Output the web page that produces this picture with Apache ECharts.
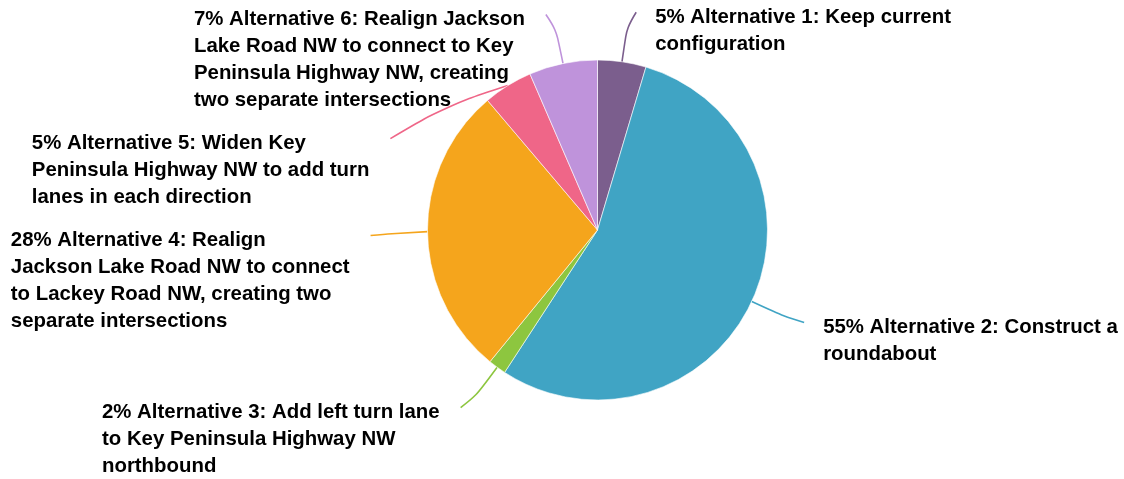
<!DOCTYPE html>
<html>
<head>
<meta charset="utf-8">
<script src="https://cdn.jsdelivr.net/npm/echarts@6/dist/echarts.min.js"></script>
<style>
html,body{margin:0;padding:0;background:#ffffff;}
#chart{width:1124px;height:479px;}
</style>
</head>
<body>
<div id="chart"></div>
<script>
// ---- data ----
const categories = [
  'Alternative 1: Keep current configuration',
  'Alternative 2: Construct a roundabout',
  'Alternative 3: Add left turn lane to Key Peninsula Highway NW northbound',
  'Alternative 4: Realign Jackson Lake Road NW to connect to Lackey Road NW, creating two separate intersections',
  'Alternative 5: Widen Key Peninsula Highway NW to add turn lanes in each direction',
  'Alternative 6: Realign Jackson Lake Road NW to connect to Key Peninsula Highway NW, creating two separate intersections'
];
// label text as wrapped in the chart (percent prefix is added from the values)
const wrappedLabels = [
  'Alternative 1: Keep current\nconfiguration',
  'Alternative 2: Construct a\nroundabout',
  'Alternative 3: Add left turn lane\nto Key Peninsula Highway NW\nnorthbound',
  'Alternative 4: Realign\nJackson Lake Road NW to connect\nto Lackey Road NW, creating two\nseparate intersections',
  'Alternative 5: Widen Key\nPeninsula Highway NW to add turn\nlanes in each direction',
  'Alternative 6: Realign Jackson\nLake Road NW to connect to Key\nPeninsula Highway NW, creating\ntwo separate intersections'
];
const values = [4.6, 54.6, 1.7, 27.9, 4.7, 6.5];
const colors = ['#7b5e8d', '#40a4c4', '#8dc63f', '#f5a51c', '#ef6688', '#bf93db'];

// ---- layout constants ----
const CX = 597.5, CY = 230, R0 = 170;
const LEN = 50;      // radial distance of label line end beyond the pie edge
const HOFF = 7;      // small horizontal hook at line end
const GAP_R = 19;    // gap between line end and text (right side)
const GAP_L = 21;    // gap between line end and text (left side)
const TOPOFF = 8.5;  // line end y to label box top
const VGAP = 16;     // min vertical gap between labels on one side

const chart = echarts.init(document.getElementById('chart'), null, {renderer: 'canvas'});

const store = [];
function collect(p) {
  store[p.dataIndex] = {
    pts: p.labelLinePoints,
    w: p.labelRect.width,
    h: p.labelRect.height
  };
  return {};
}

const option = {
  animation: false,
  backgroundColor: '#ffffff',
  series: [{
    type: 'pie',
    center: [CX, CY],
    radius: R0,
    startAngle: 90,
    clockwise: true,
    data: categories.map((name, i) => ({
      name: name,
      value: values[i],
      itemStyle: {color: colors[i]},
      labelLine: {lineStyle: {color: colors[i]}}
    })),
    itemStyle: {borderColor: '#ffffff', borderWidth: 0.6},
    label: {
      show: true,
      position: 'outside',
      alignTo: 'none',
      overflow: 'none',
      bleedMargin: 0,
      formatter: function (p) {
        return Math.round(p.value) + '% ' + wrappedLabels[p.dataIndex];
      },
      color: '#000000',
      fontFamily: '"Liberation Sans", Arial, Helvetica, sans-serif',
      fontWeight: 'bold',
      fontSize: 20.4,
      lineHeight: 27,
      align: 'left'
    },
    labelLine: {
      show: true,
      length: LEN,
      length2: 0,
      smooth: 0.35,
      lineStyle: {width: 1.6}
    },
    emphasis: {disabled: true},
    labelLayout: collect
  }]
};

chart.setOption(option);

function computeLayout() {
  const R = R0 + LEN;
  const items = store.map((s, i) => {
    const p0 = s.pts[0];
    const dx = (p0[0] - CX) / R0, dy = (p0[1] - CY) / R0;
    return {i: i, p0: p0, dx: dx, dy: dy, side: dx >= 0 ? 1 : -1,
            endY: CY + dy * R, w: s.w, h: s.h, shifted: false};
  });
  [1, -1].forEach(side => {
    const list = items.filter(it => it.side === side).sort((a, b) => a.endY - b.endY);
    for (let k = 1; k < list.length; k++) {
      const prev = list[k - 1], cur = list[k];
      const prevBottom = prev.endY - TOPOFF + prev.h;
      if (cur.endY - TOPOFF < prevBottom + VGAP) {
        cur.endY = prevBottom + VGAP + TOPOFF;
        cur.shifted = true;
      }
    }
  });
  const out = [];
  items.forEach(it => {
    const ddy = it.endY - CY;
    const ddx = Math.sqrt(Math.max(0, R * R - ddy * ddy));
    const endX = CX + it.side * ddx + it.side * HOFF;
    const end = [endX, it.endY];
    let mid;
    if (it.shifted) {
      mid = [it.p0[0] + it.dx * 14, it.p0[1] + it.dy * 14];
      mid = [(mid[0] + end[0]) / 2, (mid[1] + end[1]) / 2];
    } else {
      mid = [CX + it.dx * (R0 + LEN * 0.7), CY + it.dy * (R0 + LEN * 0.7)];
    }
    const x = it.side > 0 ? endX + GAP_R : endX - GAP_L - it.w;
    out[it.i] = {
      x: x,
      y: it.endY - TOPOFF,
      align: 'left',
      verticalAlign: 'top',
      labelLinePoints: [[it.p0[0], it.p0[1]], mid, end]
    };
  });
  return out;
}

const finalLayout = computeLayout();
chart.setOption({
  series: [{
    labelLayout: function (p) { return finalLayout[p.dataIndex] || {}; }
  }]
});
</script>
</body>
</html>
